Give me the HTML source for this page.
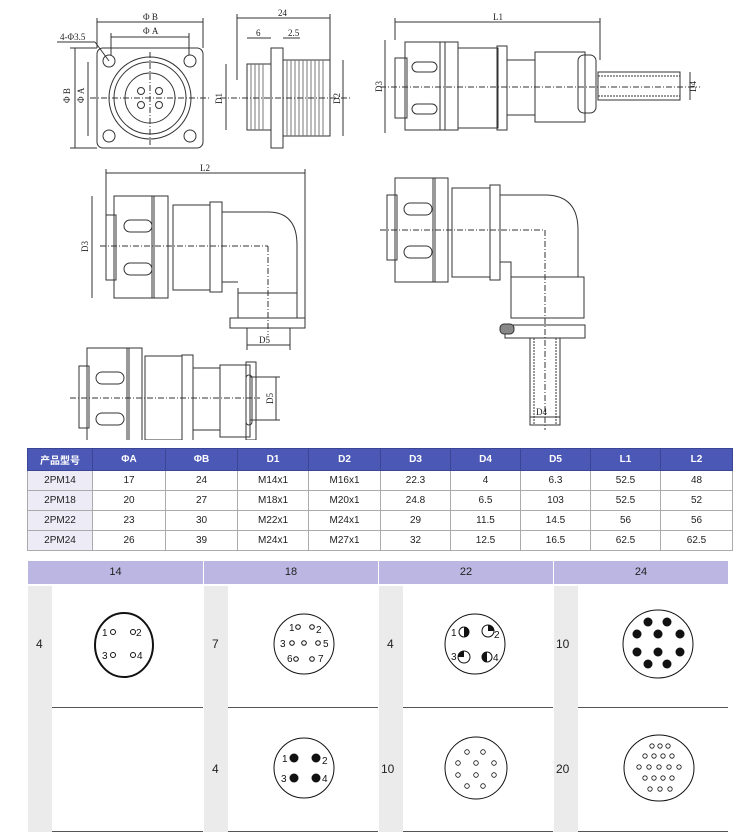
<!DOCTYPE html>
<html><head><meta charset="utf-8"><style>
*{margin:0;padding:0;box-sizing:border-box}
body{width:750px;height:837px;background:#fff;position:relative;overflow:hidden;font-family:"Liberation Sans","Noto Sans CJK SC",sans-serif}
svg{position:absolute;left:0;top:0}
table{position:absolute;left:27px;top:448px;width:706px;border-collapse:collapse;font-size:10px;color:#222}
td{text-align:center;height:20px;border:1px solid #aaa;background:#fff}
tr.h td{background:#4b58b5;color:#fff;height:22px;font-weight:bold;border-color:#3b4595}
td.n{background:#ecebf6}
.grid{position:absolute;left:28px;top:561px;width:700px}
.hd{position:absolute;top:0;height:23px;background:#bcb6e2;font-size:11px;text-align:center;line-height:23px;color:#222}
.cell{position:absolute;background:#fff;border-bottom:1px solid #555}
.strip{position:absolute;background:#ebebeb;font-size:12px;color:#222}
</style></head><body>
<svg width="750" height="440" viewBox="0 0 750 440" fill="none" stroke="#333" stroke-width="1" font-family="Liberation Serif" font-size="9">
<rect x="97" y="48" width="106" height="100" rx="6"/>
<circle cx="150" cy="98" r="41"/><circle cx="150" cy="98" r="36"/><circle cx="150" cy="98" r="25"/>
<circle cx="141" cy="91" r="3.5"/><circle cx="159" cy="91" r="3.5"/><circle cx="141" cy="105" r="3.5"/><circle cx="159" cy="105" r="3.5"/>
<circle cx="109" cy="61" r="6"/><circle cx="190" cy="61" r="6"/><circle cx="109" cy="136" r="6"/><circle cx="190" cy="136" r="6"/>
<line x1="90" y1="98" x2="210" y2="98" stroke-dasharray="6,2,1,2"/><line x1="150" y1="52" x2="150" y2="145" stroke-dasharray="6,2,1,2"/>
<line x1="97" y1="22" x2="203" y2="22"/><line x1="97" y1="18" x2="97" y2="48"/><line x1="203" y1="18" x2="203" y2="48"/>
<line x1="111" y1="37" x2="189" y2="37"/><line x1="111" y1="33" x2="111" y2="55"/><line x1="189" y1="33" x2="189" y2="55"/>
<line x1="75" y1="48" x2="75" y2="148"/><line x1="70" y1="48" x2="97" y2="48"/><line x1="70" y1="148" x2="97" y2="148"/>
<line x1="88" y1="62" x2="88" y2="136"/>
<line x1="57" y1="42" x2="95" y2="42"/><line x1="95" y1="42" x2="109" y2="61"/>
<g stroke="none" fill="#222"><text x="143" y="20">Φ B</text><text x="143" y="34">Φ A</text><text x="60" y="40">4-Φ3.5</text><text x="70" y="103" transform="rotate(-90 70 103)">Φ B</text><text x="84" y="103" transform="rotate(-90 84 103)">Φ A</text></g>
<rect x="271" y="48" width="12" height="100"/>
<rect x="247" y="64" width="24" height="66"/><rect x="283" y="60" width="47" height="76"/>
<g stroke="#777"><path d="M251 64v66M255 64v66M259 64v66M263 64v66M287 60v76M291 60v76M295 60v76M299 60v76M303 60v76M307 60v76M311 60v76M315 60v76M319 60v76M323 60v76"/></g>
<line x1="237" y1="18" x2="330" y2="18"/><line x1="237" y1="14" x2="237" y2="80"/><line x1="330" y1="14" x2="330" y2="60"/>
<line x1="247" y1="38" x2="271" y2="38"/><line x1="283" y1="38" x2="300" y2="38"/>
<line x1="226" y1="64" x2="226" y2="130"/><line x1="343" y1="60" x2="343" y2="136"/>
<line x1="220" y1="98" x2="350" y2="98" stroke-dasharray="6,2,1,2"/>
<g stroke="none" fill="#222"><text x="278" y="16">24</text><text x="256" y="36">6</text><text x="288" y="36">2.5</text><text x="222" y="104" transform="rotate(-90 222 104)">D1</text><text x="340" y="104" transform="rotate(-90 340 104)">D2</text></g>
<line x1="395" y1="22" x2="600" y2="22"/><line x1="395" y1="18" x2="395" y2="40"/><line x1="600" y1="18" x2="600" y2="60"/>
<line x1="385" y1="40" x2="385" y2="133"/>
<rect x="395" y="58" width="12" height="60"/><rect x="405" y="42" width="40" height="88"/><rect x="440" y="42" width="18" height="88"/>
<rect x="412" y="62" width="25" height="10" rx="5"/><rect x="412" y="104" width="25" height="10" rx="5"/>
<rect x="458" y="48" width="40" height="80"/><rect x="497" y="46" width="10" height="84"/><rect x="507" y="60" width="28" height="55"/>
<rect x="535" y="52" width="50" height="70"/><rect x="578" y="55" width="18" height="58" rx="6"/>
<rect x="598" y="72" width="82" height="28"/><line x1="598" y1="76" x2="680" y2="76" stroke-dasharray="2,1"/><line x1="598" y1="96" x2="680" y2="96" stroke-dasharray="2,1"/>
<line x1="380" y1="87" x2="700" y2="87" stroke-dasharray="6,2,1,2"/>
<line x1="690" y1="72" x2="690" y2="100"/>
<g stroke="none" fill="#222"><text x="493" y="20">L1</text><text x="382" y="92" transform="rotate(-90 382 92)">D3</text><text x="696" y="92" transform="rotate(-90 696 92)">D4</text></g>
<line x1="106" y1="173" x2="305" y2="173"/><line x1="106" y1="169" x2="106" y2="215"/><line x1="305" y1="169" x2="305" y2="318"/>
<line x1="92" y1="196" x2="92" y2="298"/>
<rect x="106" y="215" width="10" height="65"/><rect x="114" y="196" width="40" height="102"/><rect x="152" y="196" width="16" height="102"/>
<rect x="124" y="220" width="28" height="12" rx="6"/><rect x="124" y="263" width="28" height="12" rx="6"/>
<rect x="173" y="205" width="37" height="85"/><rect x="210" y="202" width="12" height="90"/>
<path d="M222 212 H268 Q297 212 297 245 V293 H238 V288"/><path d="M222 282 H238"/>
<rect x="238" y="293" width="59" height="25"/><rect x="230" y="318" width="75" height="10"/>
<line x1="100" y1="246" x2="268" y2="246" stroke-dasharray="6,2,1,2"/><line x1="268" y1="246" x2="268" y2="335" stroke-dasharray="6,2,1,2"/>
<line x1="247" y1="345" x2="290" y2="345"/><line x1="247" y1="328" x2="247" y2="350"/><line x1="290" y1="328" x2="290" y2="350"/>
<g stroke="none" fill="#222"><text x="200" y="171">L2</text><text x="88" y="252" transform="rotate(-90 88 252)">D3</text><text x="259" y="343">D5</text></g>
<rect x="387" y="195" width="10" height="65"/><rect x="395" y="178" width="40" height="104"/><rect x="433" y="178" width="15" height="104"/>
<rect x="404" y="203" width="28" height="12" rx="6"/><rect x="404" y="246" width="28" height="12" rx="6"/>
<rect x="452" y="188" width="38" height="89"/><rect x="490" y="185" width="10" height="95"/>
<path d="M500 195 H545 Q578 195 578 230 V277 H511 V262 L500 262"/>
<rect x="511" y="277" width="73" height="41"/>
<path d="M505 325 H585 V338 H505 Z"/><rect x="500" y="324" width="14" height="10" rx="4" fill="#888"/>
<rect x="530" y="338" width="30" height="87"/><line x1="534" y1="338" x2="534" y2="425" stroke-dasharray="2,1"/><line x1="556" y1="338" x2="556" y2="425" stroke-dasharray="2,1"/>
<line x1="380" y1="230" x2="545" y2="230" stroke-dasharray="6,2,1,2"/><line x1="545" y1="230" x2="545" y2="430" stroke-dasharray="6,2,1,2"/>
<line x1="530" y1="417" x2="560" y2="417"/>
<g stroke="none" fill="#222"><text x="536" y="415">D4</text></g>
<rect x="79" y="366" width="10" height="62"/><rect x="87" y="348" width="42" height="100"/><rect x="127" y="348" width="15" height="100"/>
<rect x="96" y="372" width="28" height="12" rx="6"/><rect x="96" y="413" width="28" height="12" rx="6"/>
<rect x="145" y="356" width="37" height="84"/><rect x="182" y="355" width="11" height="86"/><rect x="193" y="368" width="27" height="62"/>
<rect x="220" y="365" width="30" height="72"/><rect x="246" y="362" width="10" height="78"/><rect x="246" y="375" width="6" height="50" rx="3"/>
<line x1="70" y1="398" x2="260" y2="398" stroke-dasharray="6,2,1,2"/>
<line x1="276" y1="377" x2="276" y2="420"/><line x1="250" y1="377" x2="280" y2="377"/><line x1="250" y1="420" x2="280" y2="420"/>
<g stroke="none" fill="#222"><text x="273" y="404" transform="rotate(-90 273 404)">D5</text></g>
</svg>

<table>
<tr class="h"><td style="width:65px">产品型号</td><td style="width:73px">ΦA</td><td style="width:72px">ΦB</td><td style="width:71px">D1</td><td style="width:72px">D2</td><td style="width:70px">D3</td><td style="width:70px">D4</td><td style="width:70px">D5</td><td style="width:70px">L1</td><td>L2</td></tr>
<tr><td class="n">2PM14</td><td>17</td><td>24</td><td>M14x1</td><td>M16x1</td><td>22.3</td><td>4</td><td>6.3</td><td>52.5</td><td>48</td></tr>
<tr><td class="n">2PM18</td><td>20</td><td>27</td><td>M18x1</td><td>M20x1</td><td>24.8</td><td>6.5</td><td>103</td><td>52.5</td><td>52</td></tr>
<tr><td class="n">2PM22</td><td>23</td><td>30</td><td>M22x1</td><td>M24x1</td><td>29</td><td>11.5</td><td>14.5</td><td>56</td><td>56</td></tr>
<tr><td class="n">2PM24</td><td>26</td><td>39</td><td>M24x1</td><td>M27x1</td><td>32</td><td>12.5</td><td>16.5</td><td>62.5</td><td>62.5</td></tr>
</table>

<div class="grid">
<div class="hd" style="left:0;width:175px">14</div><div class="hd" style="left:176px;width:174px">18</div><div class="hd" style="left:351px;width:174px">22</div><div class="hd" style="left:526px;width:174px">24</div>
<div class="strip" style="left:0;top:25px;width:24px;height:246px"><span style="position:absolute;left:8px;top:51px">4</span></div>
<div class="strip" style="left:176px;top:25px;width:24px;height:246px"><span style="position:absolute;left:8px;top:51px">7</span><span style="position:absolute;left:8px;top:176px">4</span></div>
<div class="strip" style="left:351px;top:25px;width:24px;height:246px"><span style="position:absolute;left:8px;top:51px">4</span><span style="position:absolute;left:2px;top:176px">10</span></div>
<div class="strip" style="left:526px;top:25px;width:24px;height:246px"><span style="position:absolute;left:2px;top:51px">10</span><span style="position:absolute;left:2px;top:176px">20</span></div>
<div class="cell" style="left:24px;top:25px;width:151px;height:122px"></div><div class="cell" style="left:24px;top:147px;width:151px;height:124px"></div>
<div class="cell" style="left:200px;top:25px;width:150px;height:122px"></div><div class="cell" style="left:200px;top:147px;width:150px;height:124px"></div>
<div class="cell" style="left:375px;top:25px;width:150px;height:122px"></div><div class="cell" style="left:375px;top:147px;width:150px;height:124px"></div>
<div class="cell" style="left:550px;top:25px;width:150px;height:122px"></div><div class="cell" style="left:550px;top:147px;width:150px;height:124px"></div>
</div>

<svg width="750" height="837" viewBox="0 0 750 837" fill="none" stroke="#111" font-family="Liberation Sans" font-size="9">
<ellipse cx="124" cy="645" rx="29" ry="32" stroke-width="2"/>
<g fill="#111" stroke="none" font-size="10"><text x="102" y="636">1</text><text x="136" y="636">2</text><text x="102" y="659">3</text><text x="137" y="659">4</text></g>
<circle cx="113" cy="632" r="2.5"/><circle cx="133" cy="632" r="2.5"/><circle cx="113" cy="655" r="2.5"/><circle cx="133" cy="655" r="2.5"/>
<ellipse cx="304" cy="644" rx="30" ry="30"/>
<g fill="#111" stroke="none" font-size="10"><text x="289" y="631">1</text><text x="316" y="633">2</text><text x="280" y="647">3</text><text x="323" y="647">5</text><text x="287" y="662">6</text><text x="318" y="662">7</text></g>
<circle cx="298" cy="627" r="2.3"/><circle cx="312" cy="627" r="2.3"/><circle cx="292" cy="643" r="2.3"/><circle cx="304" cy="643" r="2.3"/><circle cx="318" cy="643" r="2.3"/><circle cx="296" cy="659" r="2.3"/><circle cx="312" cy="659" r="2.3"/>
<ellipse cx="475" cy="644" rx="30" ry="30"/>
<circle cx="464" cy="632" r="5"/><circle cx="488" cy="631" r="6"/><circle cx="464" cy="657" r="6"/><circle cx="487" cy="657" r="5"/>
<g fill="#111" stroke="none" font-size="10"><path d="M464 627a5 5 0 0 1 0 10z"/><path d="M488 625a6 6 0 0 1 6 6h-6z"/><path d="M464 651a6 6 0 0 0 -6 6h6z"/><path d="M487 652a5 5 0 0 0 0 10z"/><text x="451" y="636">1</text><text x="494" y="638">2</text><text x="451" y="660">3</text><text x="493" y="661">4</text>
<circle cx="648" cy="622" r="4.5"/><circle cx="667" cy="622" r="4.5"/><circle cx="637" cy="634" r="4.5"/><circle cx="658" cy="634" r="4.5"/><circle cx="680" cy="634" r="4.5"/><circle cx="637" cy="652" r="4.5"/><circle cx="658" cy="652" r="4.5"/><circle cx="680" cy="652" r="4.5"/><circle cx="648" cy="664" r="4.5"/><circle cx="667" cy="664" r="4.5"/></g>
<ellipse cx="658" cy="644" rx="35" ry="34"/>
<ellipse cx="304" cy="768" rx="30" ry="30"/>
<g fill="#111" stroke="none" font-size="10"><circle cx="294" cy="758" r="4.5"/><circle cx="316" cy="758" r="4.5"/><circle cx="294" cy="778" r="4.5"/><circle cx="316" cy="778" r="4.5"/><text x="282" y="762">1</text><text x="322" y="764">2</text><text x="281" y="782">3</text><text x="322" y="782">4</text></g>
<ellipse cx="476" cy="768" rx="31" ry="31"/>
<g stroke-width="0.8"><circle cx="467" cy="752" r="2.3"/><circle cx="483" cy="752" r="2.3"/><circle cx="458" cy="763" r="2.3"/><circle cx="476" cy="763" r="2.3"/><circle cx="494" cy="763" r="2.3"/><circle cx="458" cy="775" r="2.3"/><circle cx="476" cy="775" r="2.3"/><circle cx="494" cy="775" r="2.3"/><circle cx="467" cy="786" r="2.3"/><circle cx="483" cy="786" r="2.3"/></g>
<ellipse cx="659" cy="768" rx="35" ry="33"/>
<g stroke-width="0.8"><circle cx="652" cy="746" r="2.2"/><circle cx="660" cy="746" r="2.2"/><circle cx="668" cy="746" r="2.2"/>
<circle cx="645" cy="756" r="2.2"/><circle cx="654" cy="756" r="2.2"/><circle cx="663" cy="756" r="2.2"/><circle cx="672" cy="756" r="2.2"/>
<circle cx="639" cy="767" r="2.2"/><circle cx="649" cy="767" r="2.2"/><circle cx="659" cy="767" r="2.2"/><circle cx="669" cy="767" r="2.2"/><circle cx="679" cy="767" r="2.2"/>
<circle cx="645" cy="778" r="2.2"/><circle cx="654" cy="778" r="2.2"/><circle cx="663" cy="778" r="2.2"/><circle cx="672" cy="778" r="2.2"/>
<circle cx="650" cy="789" r="2.2"/><circle cx="660" cy="789" r="2.2"/><circle cx="670" cy="789" r="2.2"/></g>
</svg>
</body></html>
